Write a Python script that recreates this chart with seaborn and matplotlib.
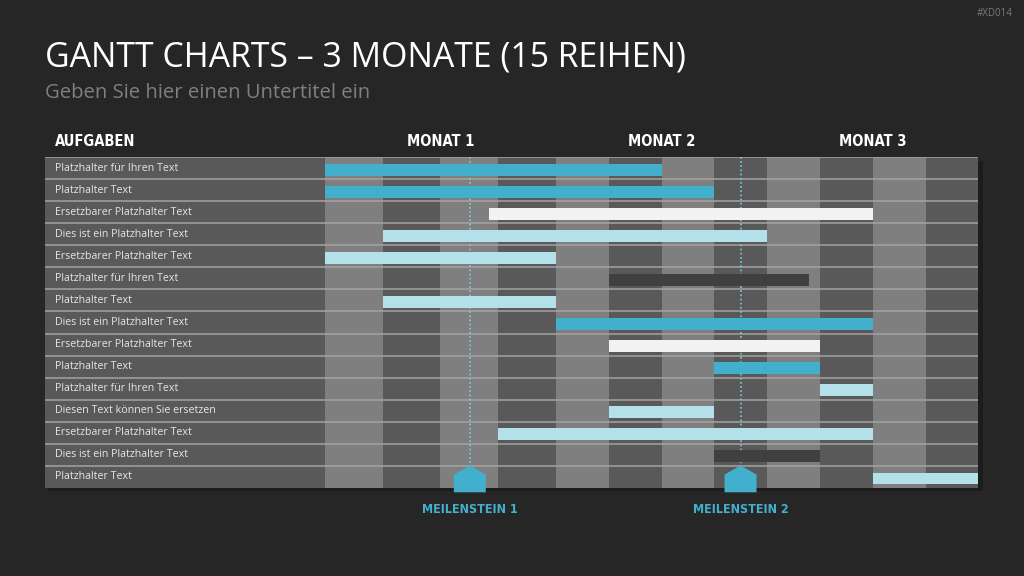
import numpy as np
import matplotlib
matplotlib.use("Agg")
import matplotlib.pyplot as plt
import matplotlib.transforms as mtransforms
from matplotlib.patches import Rectangle
import seaborn as sns
import pandas as pd

# ===== data
tasks = [
    "Platzhalter für Ihren Text",
    "Platzhalter Text",
    "Ersetzbarer Platzhalter Text",
    "Dies ist ein Platzhalter Text",
    "Ersetzbarer Platzhalter Text",
    "Platzhalter für Ihren Text",
    "Platzhalter Text",
    "Dies ist ein Platzhalter Text",
    "Ersetzbarer Platzhalter Text",
    "Platzhalter Text",
    "Platzhalter für Ihren Text",
    "Diesen Text können Sie ersetzen",
    "Ersetzbarer Platzhalter Text",
    "Dies ist ein Platzhalter Text",
    "Platzhalter Text",
]
# start / end in days from project start
starts = [0, 0, 24.8, 8.75, 0, 43, 8.75, 35, 43, 59, 75, 43, 26.25, 59, 83]
ends = [51, 59, 83, 67, 35, 73.3, 35, 83, 75, 75, 83, 59, 83, 75, 99]
kinds = ["blue", "blue", "white", "light", "light", "dark", "light", "blue",
         "white", "blue", "light", "light", "light", "dark", "light"]
months = ["MONAT 1", "MONAT 2", "MONAT 3"]
month_days = [35, 32, 32]
milestones = ["MEILENSTEIN 1", "MEILENSTEIN 2"]
milestone_days = [21.95, 62.97]

# ===== style
bg = "#262626"
blue = "#42afcc"
palette = {"blue": blue, "white": "#f2f2f2", "light": "#b4e0ea", "dark": "#404040"}
col_light = "#7f7f7f"
col_dark = "#595959"

sns.set_theme(style="white")
plt.rcParams["font.family"] = ["Open Sans", "DejaVu Sans"]
cond_kw = dict(family=["DejaVu Sans"], fontstretch="condensed", weight="bold")

df = pd.DataFrame({"task": tasks, "start": starts, "end": ends, "kind": kinds})
df["row"] = np.arange(len(df))

fig = plt.figure(figsize=(10.24, 5.76), dpi=100)
fig.set_facecolor(bg)
W, H = 1024, 576
left, right, top, bottom = 45, 978.3, 157.3, 487.7

# soft shadow behind the table
fig.patches.append(Rectangle(((left + 3) / W, 1 - (bottom + 3.5) / H), (right - left + 2) / W,
                             (bottom - top) / H, transform=fig.transFigure,
                             color="#1c1c1c", lw=0, zorder=-5))

ax = fig.add_axes([left / W, 1 - bottom / H, (right - left) / W, (bottom - top) / H])
ax.set_zorder(1)

total = sum(month_days)
panel = total * (325 - left) / (right - 325)
n = len(df)
ax.set_xlim(-panel, total)
ax.set_ylim(n - 0.5, -0.5)
ax.axis("off")

# label panel + week columns
ax.axvspan(-panel, 0, color=col_dark, lw=0, zorder=0)
edges = [0.0]
for md in month_days:
    edges += list(edges[-1] + np.arange(1, 5) * md / 4)
for i in range(len(edges) - 1):
    ax.axvspan(edges[i], edges[i + 1], color=col_light if i % 2 == 0 else col_dark, lw=0, zorder=0)

# row separators
ax.hlines(np.arange(n) - 0.5, -panel, total, color="#a3a3a3", lw=1.1, zorder=1)

# bars
ax.barh(df["row"] + 0.08, df["end"] - df["start"], left=df["start"], height=0.54,
        color=df["kind"].map(palette), lw=0, zorder=3)

# row labels
tr = mtransforms.blended_transform_factory(ax.transAxes, ax.transData)
for r, t in zip(df["row"], df["task"]):
    ax.text(0.0107, r, t, transform=tr, color="#e6e6e6", fontsize=7.7, va="center", ha="left")

# headers
trh = mtransforms.blended_transform_factory(ax.transData, ax.transAxes)
ax.text(0.0107, 1.047, "AUFGABEN", transform=ax.transAxes, color="white", fontsize=10.5,
        va="center", ha="left", **cond_kw)
mstarts = np.concatenate([[0], np.cumsum(month_days)[:-1]])
for m, s, d in zip(months, mstarts, month_days):
    ax.text(s + d / 2, 1.047, m, transform=trh, color="white", fontsize=10.5,
            va="center", ha="center", **cond_kw)

# milestones
ms = pd.DataFrame({"day": milestone_days, "row": [n - 1 + 0.1] * len(milestone_days)})
ax.vlines(ms["day"], -0.5, n - 1 - 0.5, color="#7fcbe0", lw=1.2, linestyles=(0, (1, 1.5)), zorder=2)
house = [(-1, -0.84), (1, -0.84), (1, 0.27), (0, 0.84), (-1, 0.27)]
sns.scatterplot(data=ms, x="day", y="row", marker=house, s=530, color=blue,
                edgecolor="none", ax=ax, zorder=5, clip_on=False, legend=False)
for name, d in zip(milestones, milestone_days):
    ax.text(d, -0.067, name, transform=trh, color=blue, fontsize=9, va="center",
            ha="center", **cond_kw)

# titles
fig.text(45 / W, 1 - 57 / H, "GANTT CHARTS – 3 MONATE (15 REIHEN)", color="white",
         fontsize=24.4, va="center", ha="left")
fig.text(45 / W, 1 - 93 / H, "Geben Sie hier einen Untertitel ein", color="#7f7f7f",
         fontsize=14.6, va="center", ha="left")
fig.text(1013 / W, 1 - 13 / H, "#XD014", color="#7a7a7a", fontsize=7, va="center", ha="right")

fig.savefig("out.png", dpi=100, facecolor=bg)
